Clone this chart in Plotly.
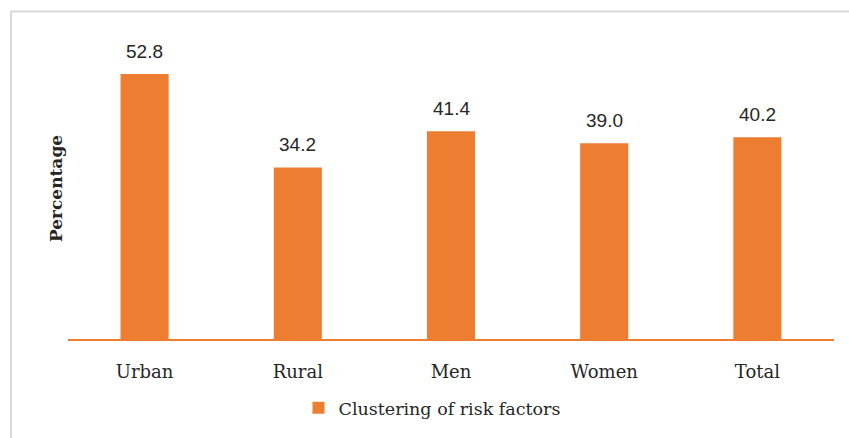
import plotly.graph_objects as go

categories = ["Urban", "Rural", "Men", "Women", "Total"]
values = [52.8, 34.2, 41.4, 39.0, 40.2]
value_labels = ["52.8", "34.2", "41.4", "39.0", "40.2"]
series_name = "Clustering of risk factors"

W, H = 849, 438
L, R, T, B = 68, 15, 38, 94
pw, ph = W - L - R, H - T - B

ORANGE = "#ED7D31"
TXT = "#262626"
SLAB = "DejaVu Serif"
SANS = "Liberation Sans, Arial, sans-serif"

fig = go.Figure()
fig.add_trace(go.Bar(
    x=categories, y=values, name=series_name,
    marker=dict(color=ORANGE, line=dict(width=0)),
    cliponaxis=False,
))

for c, v, t in zip(categories, values, value_labels):
    fig.add_annotation(x=c, y=v, text=t, showarrow=False,
                       yanchor="middle", yshift=23,
                       font=dict(family=SANS, size=19, color=TXT))

def px_x(p):
    return (p - L) / pw

def px_y(p):
    return (H - B - p) / ph

fig.update_layout(
    width=W, height=H,
    margin=dict(l=L, r=R, t=T, b=B),
    paper_bgcolor="white", plot_bgcolor="white",
    bargap=0.686,
    showlegend=True,
    legend=dict(orientation="h", x=px_x(432), xanchor="center",
                y=px_y(414), yanchor="middle",
                font=dict(family=SLAB, size=17.5, color=TXT),
                itemwidth=30),
    xaxis=dict(showline=True, linecolor=ORANGE, linewidth=2,
               ticks="", showgrid=False, ticklabelstandoff=15,
               tickfont=dict(family=SLAB, size=18, color=TXT)),
    yaxis=dict(range=[0, 60], showticklabels=False, showgrid=False,
               zeroline=False, showline=False, ticks="",
               title=dict(text="<b>Percentage</b>",
                          font=dict(family=SLAB, size=17, color=TXT),
                          standoff=0)),
    shapes=[dict(type="rect", xref="paper", yref="paper",
                 x0=px_x(11), x1=px_x(W + 10), y0=px_y(H + 10), y1=px_y(11),
                 line=dict(color="#d9d9d9", width=2), layer="below")],
)

fig.write_html("out.html")
